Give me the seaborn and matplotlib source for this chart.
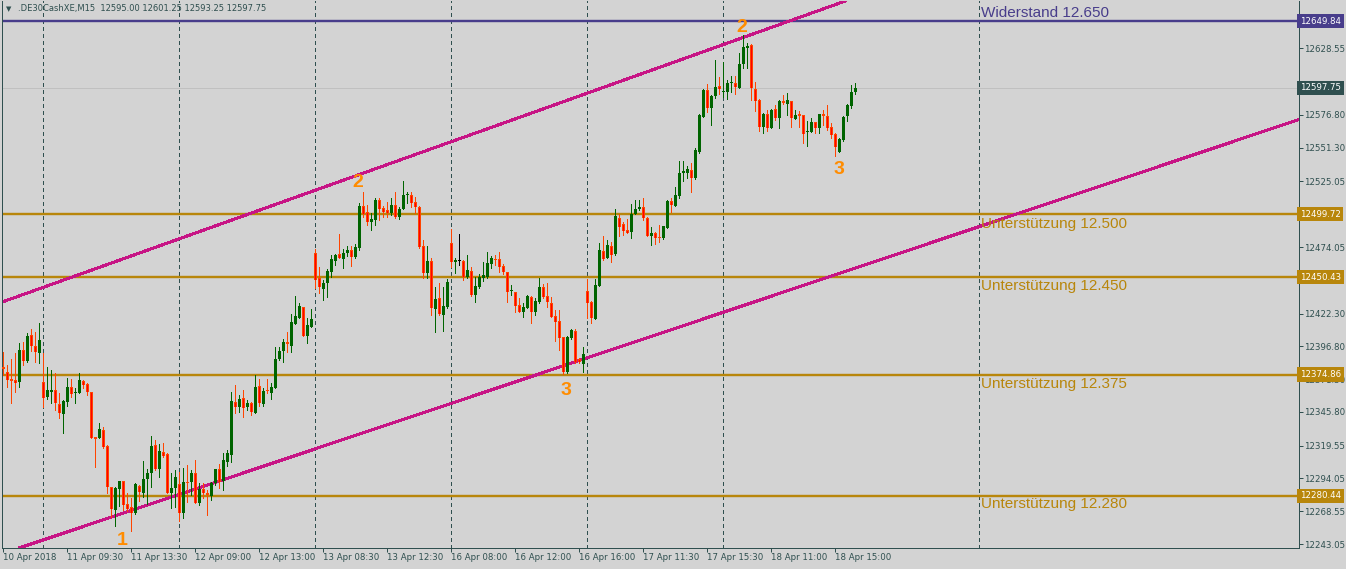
import matplotlib
matplotlib.use("Agg")
import matplotlib.pyplot as plt
import seaborn as sns
import numpy as np
import pandas as pd

# .DE30CashXE M15 candles
opens = [
    12380.5, 12377.1, 12371.2, 12370.7, 12369.4, 12394.0, 12385.7, 12405.7, 12397.1, 12391.9,
    12369.4, 12357.2, 12361.6, 12362.9, 12352.0, 12344.5, 12353.8, 12365.0, 12360.3, 12360.8,
    12369.9, 12367.6, 12361.3, 12326.6, 12325.8, 12331.8, 12319.3, 12287.7, 12269.6, 12285.9,
    12292.1, 12274.0, 12271.7, 12267.5, 12288.5, 12283.1, 12293.4, 12298.6, 12320.1, 12301.2,
    12314.4, 12313.1, 12283.1, 12286.4, 12289.8, 12267.0, 12291.6, 12291.6, 12298.1, 12275.3,
    12285.9, 12282.5, 12280.5, 12290.8, 12301.2, 12292.0, 12307.1, 12312.0, 12353.8, 12349.4,
    12356.4, 12349.4, 12352.5, 12345.3, 12366.0, 12352.0, 12362.9, 12360.8, 12364.2, 12386.7,
    12393.2, 12400.2, 12397.4, 12414.2, 12418.6, 12427.2, 12405.1, 12412.1, 12469.2, 12449.7,
    12441.4, 12445.8, 12454.9, 12463.5, 12468.6, 12464.7, 12469.2, 12471.8, 12466.6, 12473.6,
    12506.0, 12501.3, 12493.8, 12495.1, 12510.6, 12504.2, 12502.9, 12500.3, 12506.7, 12497.7,
    12503.4, 12514.5, 12514.5, 12508.8, 12504.9, 12474.9, 12453.6, 12463.2, 12425.9, 12434.2,
    12421.2, 12427.7, 12476.9, 12462.2, 12463.2, 12463.2, 12451.0, 12455.4, 12436.8, 12443.2,
    12450.2, 12451.0, 12460.9, 12464.8, 12464.8, 12459.6, 12454.4, 12439.6, 12438.8, 12429.0,
    12423.8, 12426.9, 12435.5, 12423.8, 12431.6, 12442.7, 12436.0, 12430.8, 12420.4, 12416.8,
    12403.8, 12377.1, 12403.1, 12408.8, 12387.0, 12382.8, 12439.9, 12431.6, 12418.1, 12444.0,
    12471.0, 12465.3, 12475.1, 12468.4, 12496.9, 12491.7, 12487.3, 12486.0, 12499.5, 12503.6,
    12504.9, 12496.9, 12482.9, 12484.7, 12481.6, 12480.8, 12489.1, 12509.9, 12506.2, 12513.8,
    12531.4, 12531.4, 12534.0, 12527.5, 12548.2, 12575.4, 12596.2, 12582.4, 12591.8, 12599.3,
    12594.4, 12594.9, 12601.4, 12601.4, 12598.0, 12616.4, 12629.1, 12631.2, 12597.0, 12588.4,
    12567.7, 12577.5, 12566.4, 12581.4, 12574.7, 12587.9, 12585.3, 12587.6, 12573.6, 12577.5,
    12576.7, 12563.3, 12563.8, 12571.0, 12566.9, 12577.5, 12576.0, 12567.2, 12562.0, 12548.2,
    12557.3, 12576.2, 12584.0, 12595.0,
]
highs = [
    12392.7, 12382.3, 12386.7, 12391.4, 12399.2, 12400.0, 12406.9, 12410.0, 12408.2, 12414.7,
    12391.4, 12380.5, 12378.4, 12375.8, 12360.3, 12355.1, 12371.9, 12371.2, 12364.2, 12375.8,
    12370.7, 12368.1, 12361.6, 12326.6, 12337.0, 12333.8, 12320.1, 12287.7, 12287.7, 12292.1,
    12292.1, 12282.5, 12279.2, 12290.8, 12289.0, 12307.7, 12301.2, 12327.1, 12324.0, 12320.6,
    12321.4, 12313.6, 12298.1, 12300.7, 12299.4, 12302.0, 12304.6, 12300.7, 12308.4, 12290.3,
    12290.8, 12285.1, 12291.6, 12301.2, 12305.3, 12313.6, 12316.0, 12361.6, 12366.8, 12359.0,
    12362.9, 12355.1, 12353.8, 12374.5, 12371.2, 12364.2, 12371.4, 12368.1, 12396.0, 12396.6,
    12402.3, 12407.7, 12422.0, 12436.0, 12430.8, 12427.7, 12418.6, 12425.6, 12472.5, 12458.8,
    12448.4, 12456.7, 12467.9, 12468.6, 12484.2, 12472.3, 12474.9, 12474.9, 12476.4, 12508.6,
    12517.1, 12506.7, 12500.3, 12511.9, 12511.9, 12506.0, 12509.3, 12511.9, 12517.1, 12505.5,
    12525.7, 12517.1, 12517.1, 12513.2, 12506.0, 12479.5, 12474.9, 12465.3, 12443.2, 12445.8,
    12443.2, 12449.2, 12488.1, 12465.3, 12483.9, 12464.0, 12467.9, 12458.8, 12451.0, 12452.8,
    12462.2, 12469.9, 12467.1, 12467.9, 12469.9, 12460.6, 12454.9, 12444.5, 12439.3, 12434.2,
    12430.3, 12436.8, 12436.3, 12434.2, 12449.7, 12445.1, 12445.8, 12435.5, 12425.1, 12425.1,
    12404.4, 12404.9, 12410.3, 12410.3, 12387.5, 12396.6, 12449.2, 12432.0, 12449.2, 12476.9,
    12482.9, 12479.5, 12478.2, 12503.6, 12499.5, 12493.8, 12495.9, 12507.3, 12510.6, 12510.6,
    12511.9, 12497.7, 12489.9, 12486.0, 12491.2, 12490.7, 12510.6, 12511.9, 12521.0, 12541.0,
    12541.0, 12537.4, 12539.2, 12550.8, 12577.3, 12596.8, 12600.6, 12592.3, 12619.5, 12606.6,
    12617.7, 12603.9, 12607.1, 12607.1, 12624.7, 12639.0, 12632.5, 12631.7, 12602.7, 12589.0,
    12578.0, 12580.6, 12581.4, 12584.5, 12588.4, 12592.3, 12593.6, 12588.0, 12580.6, 12579.8,
    12577.0, 12572.1, 12574.1, 12571.5, 12577.5, 12580.6, 12584.5, 12570.2, 12562.5, 12558.5,
    12576.2, 12585.0, 12600.1, 12601.25,
]
lows = [
    12374.6, 12365.5, 12352.5, 12361.6, 12365.5, 12382.3, 12384.9, 12393.5, 12384.9, 12384.1,
    12349.9, 12355.6, 12352.5, 12347.3, 12340.8, 12329.7, 12350.4, 12357.7, 12352.5, 12360.3,
    12364.2, 12359.0, 12325.3, 12303.3, 12325.3, 12317.5, 12282.5, 12264.4, 12257.1, 12272.7,
    12269.6, 12268.8, 12253.5, 12266.5, 12276.8, 12280.0, 12274.0, 12287.7, 12300.7, 12295.0,
    12311.0, 12282.5, 12270.9, 12272.2, 12261.3, 12263.1, 12276.0, 12281.2, 12274.7, 12273.4,
    12279.2, 12265.7, 12277.4, 12289.0, 12286.4, 12285.1, 12304.0, 12307.1, 12344.7, 12346.0,
    12342.1, 12347.3, 12343.4, 12344.7, 12350.4, 12350.4, 12360.3, 12356.1, 12364.2, 12386.2,
    12385.0, 12392.7, 12392.7, 12414.2, 12418.6, 12404.9, 12399.2, 12412.1, 12442.0, 12438.1,
    12432.9, 12435.5, 12450.5, 12460.1, 12465.3, 12458.0, 12467.1, 12459.6, 12465.3, 12471.8,
    12497.7, 12491.2, 12487.3, 12491.2, 12495.1, 12497.2, 12497.7, 12499.0, 12496.4, 12495.6,
    12503.4, 12508.0, 12505.5, 12500.8, 12473.1, 12449.7, 12449.7, 12421.2, 12408.3, 12421.2,
    12408.8, 12426.4, 12458.8, 12454.1, 12460.1, 12448.4, 12449.7, 12436.3, 12431.6, 12441.9,
    12447.6, 12449.7, 12458.0, 12460.1, 12454.9, 12452.8, 12431.6, 12436.8, 12423.8, 12423.5,
    12419.9, 12426.4, 12414.7, 12421.2, 12430.3, 12434.7, 12427.7, 12419.5, 12401.0, 12394.0,
    12375.1, 12375.8, 12402.5, 12383.6, 12383.6, 12377.1, 12418.6, 12414.7, 12418.1, 12444.0,
    12464.0, 12465.3, 12462.2, 12467.9, 12482.9, 12483.4, 12484.7, 12480.8, 12499.5, 12502.9,
    12495.1, 12482.5, 12475.6, 12476.2, 12478.2, 12480.3, 12488.6, 12501.1, 12506.2, 12512.5,
    12525.4, 12527.5, 12517.1, 12527.0, 12546.9, 12575.4, 12578.8, 12568.9, 12589.7, 12592.8,
    12591.0, 12589.2, 12594.4, 12592.8, 12598.0, 12613.0, 12613.0, 12588.4, 12579.9, 12564.3,
    12562.5, 12564.3, 12566.4, 12572.8, 12566.9, 12585.3, 12576.7, 12567.7, 12573.6, 12567.7,
    12554.7, 12552.9, 12563.8, 12562.5, 12562.5, 12568.9, 12565.1, 12558.6, 12545.1, 12547.7,
    12556.5, 12572.1, 12581.9, 12593.25,
]
closes = [
    12379.0, 12370.7, 12370.1, 12368.1, 12394.0, 12385.7, 12404.9, 12397.4, 12392.7, 12401.8,
    12356.4, 12362.9, 12362.9, 12352.5, 12344.7, 12354.3, 12365.5, 12359.8, 12361.6, 12370.7,
    12366.8, 12361.6, 12325.3, 12325.0, 12332.6, 12318.3, 12287.7, 12270.1, 12286.4, 12292.1,
    12273.4, 12270.4, 12267.5, 12289.8, 12283.8, 12293.7, 12298.6, 12319.3, 12301.7, 12315.4,
    12311.8, 12283.1, 12286.4, 12295.0, 12267.0, 12291.6, 12290.8, 12298.1, 12275.3, 12285.9,
    12282.5, 12281.2, 12290.3, 12301.2, 12291.6, 12308.4, 12313.6, 12354.3, 12349.4, 12355.9,
    12348.6, 12353.0, 12346.0, 12365.0, 12352.5, 12362.1, 12361.8, 12365.0, 12386.7, 12393.2,
    12400.2, 12398.4, 12415.5, 12420.7, 12428.5, 12405.1, 12413.4, 12418.1, 12448.4, 12442.7,
    12445.8, 12455.4, 12464.7, 12467.9, 12465.8, 12469.2, 12471.8, 12466.6, 12473.8, 12506.0,
    12499.8, 12493.8, 12495.6, 12510.6, 12503.4, 12501.6, 12500.3, 12506.7, 12497.7, 12503.4,
    12514.5, 12515.2, 12508.6, 12504.9, 12474.4, 12454.1, 12463.2, 12426.4, 12433.6, 12422.0,
    12428.2, 12446.6, 12462.2, 12464.0, 12463.2, 12451.0, 12456.2, 12436.8, 12443.8, 12451.0,
    12452.3, 12461.4, 12465.3, 12463.7, 12458.8, 12454.9, 12438.8, 12440.3, 12428.5, 12423.8,
    12427.7, 12436.3, 12423.3, 12432.1, 12443.2, 12435.5, 12431.6, 12419.9, 12416.0, 12403.6,
    12377.1, 12403.8, 12409.5, 12384.4, 12384.9, 12390.9, 12430.3, 12418.6, 12444.5, 12471.8,
    12464.8, 12475.6, 12467.9, 12498.5, 12489.9, 12486.5, 12485.2, 12499.5, 12503.6, 12505.5,
    12496.4, 12482.9, 12484.7, 12481.3, 12480.8, 12490.4, 12510.1, 12506.7, 12514.5, 12531.9,
    12533.2, 12534.5, 12527.5, 12549.5, 12576.7, 12596.2, 12582.4, 12591.8, 12598.8, 12596.9,
    12595.4, 12601.4, 12602.7, 12598.3, 12616.4, 12629.9, 12630.7, 12597.5, 12587.9, 12567.7,
    12577.5, 12566.9, 12580.6, 12574.7, 12587.9, 12585.8, 12588.4, 12574.1, 12576.7, 12576.0,
    12562.0, 12564.3, 12571.0, 12566.9, 12577.3, 12576.0, 12566.4, 12561.2, 12552.1, 12558.1,
    12575.4, 12584.5, 12594.9, 12597.75,
]

time_labels = ["10 Apr 2018", "11 Apr 09:30", "11 Apr 13:30", "12 Apr 09:00", "12 Apr 13:00",
               "13 Apr 08:30", "13 Apr 12:30", "16 Apr 08:00", "16 Apr 12:00", "16 Apr 16:00",
               "17 Apr 11:30", "17 Apr 15:30", "18 Apr 11:00", "18 Apr 15:00"]
label_every = 16
separators = [10, 44, 78, 112, 146, 180, 244]

price_ticks = [12243.05, 12268.55, 12294.05, 12319.55, 12345.80, 12371.30, 12396.80, 12422.30,
               12448.55, 12474.05, 12499.55, 12525.05, 12551.30, 12576.80, 12602.30, 12628.55, 12651.05]
# tick labels hidden behind the price boxes in the screenshot
hidden_ticks = [12448.55, 12499.55, 12602.30, 12651.05]

resistance = 12649.84
supports = [12499.72, 12450.43, 12374.86, 12280.44]
bid = 12597.75

level_texts = ["Widerstand 12.650", "Unterstützung 12.500", "Unterstützung 12.450",
               "Unterstützung 12.375", "Unterstützung 12.280"]
level_text_prices = [12656.0, 12492.0, 12443.7, 12367.5, 12274.2]
level_text_bar = 244.4

# channel anchors (bar, price)
upper_channel = [(-0.1, 12431.5), (159.2, 12608.4)]
lower_channel = [(10.4, 12246.7), (323.9, 12573.2)]

wave_labels = ["1", "2", "3", "2", "3"]
wave_bars = [29.7, 88.7, 140.7, 184.7, 208.9]
wave_prices = [12246.2, 12524.6, 12362.1, 12644.5, 12534.0]

title = ".DE30CashXE,M15  12595.00 12601.25 12593.25 12597.75"

# Colors (MT4 style)
BG = "#d3d3d3"
FG = "#2f4f4f"
BULL = "#006400"
BEAR_EDGE = "#ff4500"
BEAR_FILL = "#ff0000"
RES_COL = "#483d8b"
SUP_COL = "#b8860b"
CHANNEL = "#c71585"
PX = 0.72  # one pixel in points at dpi 100

sns.set_theme(style="white", rc={"axes.facecolor": BG, "figure.facecolor": BG})
plt.rcParams["font.family"] = ["DejaVu Sans"]

df = pd.DataFrame({"open": opens, "high": highs, "low": lows, "close": closes})
df["bar"] = np.arange(len(df))
df["top"] = df[["open", "close"]].max(axis=1)
df["bottom"] = df[["open", "close"]].min(axis=1)
df["kind"] = np.where(df.close > df.open, "bull", np.where(df.close < df.open, "bear", "doji"))

W, H = 1346, 569
fig = plt.figure(figsize=(W / 100, H / 100), dpi=100)
ax = fig.add_axes([2 / W, (H - 548) / H, 1297 / W, 547 / H])
ax.set_facecolor(BG)

# 4 px per bar, price scale ~0.7777 per px
ax.set_xlim(-0.325, 323.925)
ax.set_ylim(12239.99, 12665.4)
px_price = (12665.4 - 12239.99) / 547

# day separators
for b in separators:
    ax.axvline(b, color=FG, lw=PX, linestyle=(0, (4, 3)), antialiased=False, zorder=1)

# bid line
ax.axhline(bid, color="#c0c0c0", lw=PX, zorder=1)

# levels
ax.axhline(resistance, color=RES_COL, lw=2.4 * PX, zorder=2)
for s in supports:
    ax.axhline(s, color=SUP_COL, lw=2.4 * PX, zorder=2)

# channel lines
ax.axline(upper_channel[0], upper_channel[1], color=CHANNEL, lw=2 * PX, antialiased=False, zorder=2)
ax.axline(lower_channel[0], lower_channel[1], color=CHANNEL, lw=2 * PX, antialiased=False, zorder=2)

# candles
colors = {"bull": BULL, "bear": BEAR_EDGE, "doji": "black"}
wick_cols = [colors[k] for k in df.kind]
ax.vlines(df.bar, df.low, df.high, colors=wick_cols, lw=PX, antialiased=False, zorder=3)
height = np.maximum(df.top - df.bottom, px_price)
ax.bar(df.bar, height, bottom=df.bottom, width=0.75, color=wick_cols, linewidth=0,
       antialiased=False, zorder=4)
bear = df[(df.kind == "bear") & (df.top - df.bottom > 2.5 * px_price)]
ax.vlines(bear.bar, bear.bottom + px_price, bear.top - px_price, colors=BEAR_FILL, lw=PX,
          antialiased=False, zorder=5)

# level texts
for txt, p, c in zip(level_texts, level_text_prices, [RES_COL] + [SUP_COL] * 4):
    ax.text(level_text_bar, p, txt, color=c, fontsize=11, family=["Liberation Sans"],
            ha="left", va="center", zorder=6)

# wave counts
for txt, b, p in zip(wave_labels, wave_bars, wave_prices):
    ax.text(b, p, txt, color="#ff8c00", fontsize=14, fontweight="bold",
            family=["Liberation Sans"], ha="center", va="center", zorder=6)

# axes styling
for side in ["left", "bottom", "right"]:
    ax.spines[side].set_color(FG)
    ax.spines[side].set_linewidth(PX)
ax.spines["top"].set_visible(False)

ax.yaxis.tick_right()
ax.set_yticks(price_ticks)
ax.set_yticklabels(["" if t in hidden_ticks else f"{t:.2f}" for t in price_ticks])
ax.tick_params(axis="y", right=True, left=False, direction="out", length=4 * PX, width=PX,
               colors=FG, labelsize=6.2, pad=1)

xt = list(range(0, len(df), label_every))
ax.set_xticks(xt)
ax.set_xticklabels(time_labels[:len(xt)], ha="left")
ax.tick_params(axis="x", bottom=True, direction="out", length=4 * PX, width=PX,
               colors=FG, labelsize=6.2, pad=1)
ax.grid(False)

# price boxes on the right scale
boxes = [(resistance, RES_COL)] + [(bid, FG)] + [(s, SUP_COL) for s in supports]
for p, c in boxes:
    ax.text(1.0008, p, f"{p:.2f}", transform=ax.get_yaxis_transform(), ha="left", va="center",
            fontsize=6.2, color="white", clip_on=False, zorder=10,
            bbox=dict(boxstyle="square,pad=0.3", fc=c, ec="none"))

# header
fig.text(6 / W, 1 - 9 / H, "\u25bc", fontsize=5, color=FG, va="center")
fig.text(18 / W, 1 - 9 / H, title, fontsize=6.0, color=FG, va="center")

fig.savefig("out.png", dpi=100, facecolor=BG)
